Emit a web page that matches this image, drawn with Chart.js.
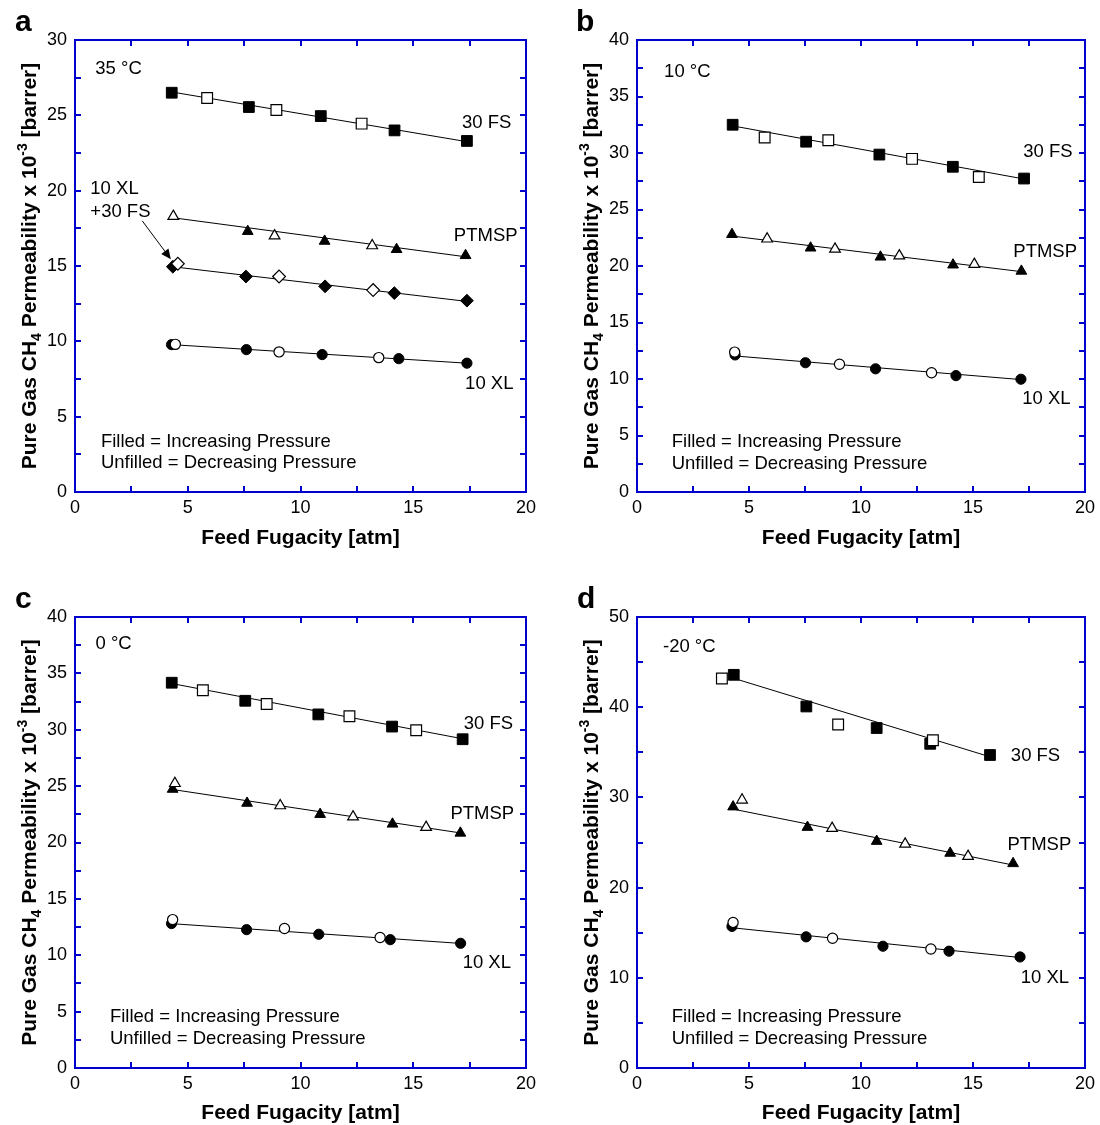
<!DOCTYPE html>
<html><head><meta charset="utf-8">
<script src="https://cdn.jsdelivr.net/npm/chart.js@4.4.1/dist/chart.umd.min.js"></script>
<style>
html,body{margin:0;padding:0;background:#fff;}
#wrap{position:relative;width:1100px;height:1125px;background:#fff;}
canvas{position:absolute;}
</style></head><body><div id="wrap">
<canvas id="pa" width="550" height="560" style="left:0;top:0"></canvas>
<canvas id="pb" width="550" height="560" style="left:550px;top:0"></canvas>
<canvas id="pc" width="550" height="565" style="left:0;top:560px"></canvas>
<canvas id="pd" width="550" height="565" style="left:550px;top:560px"></canvas>
</div>
<script>
// ---- DATA: [feed fugacity (atm), permeability x 1e-3 (barrer)] ----
// Panel a (35 °C)
const a_fs_inc = [[4.29,26.5],[7.71,25.55],[10.9,24.95],[14.17,24.0],[17.38,23.3]];
const a_fs_dec = [[5.86,26.15],[8.93,25.35],[12.71,24.45]];
const a_fs_fit = [[4.29,26.55],[17.38,23.25]];
const a_pt_inc = [[7.66,17.3],[11.07,16.65],[14.26,16.1],[17.32,15.7]];
const a_pt_dec = [[4.36,18.3],[8.85,17.0],[13.18,16.35]];
const a_pt_fit = [[4.36,18.2],[17.38,15.6]];
const a_mx_inc = [[4.34,14.95],[7.58,14.3],[11.09,13.65],[14.16,13.2],[17.38,12.7]];
const a_mx_dec = [[4.56,15.15],[9.05,14.3],[13.22,13.4]];
const a_mx_fit = [[4.34,14.95],[17.38,12.65]];
const a_xl_inc = [[4.28,9.78],[7.6,9.45],[10.96,9.12],[14.36,8.85],[17.38,8.55]];
const a_xl_dec = [[4.45,9.8],[9.05,9.3],[13.47,8.92]];
const a_xl_fit = [[4.3,9.78],[17.38,8.55]];
// Panel b (10 °C)
const b_fs_inc = [[4.27,32.5],[7.55,31.0],[10.82,29.86],[14.1,28.78],[17.28,27.74]];
const b_fs_dec = [[5.7,31.37],[8.54,31.12],[12.28,29.48],[15.26,27.87]];
const b_fs_fit = [[4.27,32.4],[17.28,27.7]];
const b_pt_inc = [[4.24,22.8],[7.75,21.6],[10.87,20.8],[14.11,20.1],[17.16,19.55]];
const b_pt_dec = [[5.81,22.4],[8.84,21.5],[11.71,20.9],[15.06,20.15]];
const b_pt_fit = [[4.24,22.65],[17.16,19.5]];
const b_xl_inc = [[4.38,12.13],[7.52,11.44],[10.65,10.9],[14.24,10.3],[17.14,9.98]];
const b_xl_dec = [[4.36,12.38],[9.04,11.31],[13.15,10.55]];
const b_xl_fit = [[4.3,12.05],[17.14,9.95]];
// Panel c (0 °C)
const c_fs_inc = [[4.29,34.17],[7.55,32.57],[10.79,31.36],[14.06,30.28],[17.19,29.16]];
const c_fs_dec = [[5.67,33.5],[8.5,32.29],[12.17,31.2],[15.13,29.96]];
const c_fs_fit = [[4.29,34.1],[17.19,29.2]];
const c_pt_inc = [[4.33,24.73],[7.63,23.49],[10.87,22.5],[14.08,21.64],[17.09,20.84]];
const c_pt_dec = [[4.43,25.24],[9.1,23.27],[12.33,22.28],[15.57,21.35]];
const c_pt_fit = [[4.33,24.7],[17.09,20.85]];
const c_xl_inc = [[4.28,12.81],[7.61,12.27],[10.81,11.86],[13.98,11.38],[17.1,11.06]];
const c_xl_dec = [[4.33,13.16],[9.29,12.37],[13.53,11.57]];
const c_xl_fit = [[4.3,12.8],[17.1,11.05]];
// Panel d (-20 °C)
const d_fs_inc = [[4.32,43.59],[7.56,40.08],[10.7,37.69],[13.09,35.94],[15.76,34.7]];
const d_fs_dec = [[3.79,43.19],[8.98,38.09],[13.21,36.33]];
const d_fs_fit = [[4.32,43.2],[15.76,34.5]];
const d_pt_inc = [[4.29,28.96],[7.61,26.69],[10.7,25.14],[13.98,23.82],[16.79,22.67]];
const d_pt_dec = [[4.69,29.72],[8.71,26.57],[11.97,24.82],[14.78,23.47]];
const d_pt_fit = [[4.29,28.7],[16.79,22.5]];
const d_xl_inc = [[4.24,15.7],[7.55,14.54],[10.98,13.5],[13.93,12.95],[17.1,12.31]];
const d_xl_dec = [[4.29,16.14],[8.73,14.38],[13.12,13.19]];
const d_xl_fit = [[4.24,15.55],[17.1,12.25]];

// axis tick definitions
const xTickStep = 2.5, xLabelStep = 5, xMax = 20;
const yMaxes = {a:30, b:40, c:40, d:50};
const yTickSteps = {a:2.5, b:2.5, c:2.5, d:5};
const yLabelSteps = {a:5, b:5, c:5, d:10};

// text labels
const xTitle = 'Feed Fugacity [atm]';
const noteFilled = 'Filled = Increasing Pressure';
const noteUnfilled = 'Unfilled = Decreasing Pressure';

// ---- rendering ----
const FONT = '"Liberation Sans", Arial, Helvetica, sans-serif';
const BLUE = '#0000CC';
Chart.defaults.font.family = FONT;

function pts(arr){ return arr.map(p => ({x:p[0], y:p[1]})); }
function series(inc, dec, fit, style, r){
  const out = [];
  if (fit) out.push({data: pts(fit), showLine:true, pointRadius:0, borderColor:'#000', borderWidth:1, order:2});
  if (inc) out.push({data: pts(inc), showLine:false, pointStyle:style, pointRadius:r, pointBackgroundColor:'#000', pointBorderColor:'#000', pointBorderWidth:1, backgroundColor:'#000', borderColor:'#000', order:1});
  if (dec) out.push({data: pts(dec), showLine:false, pointStyle:style, pointRadius:r, pointBackgroundColor:'#fff', pointBorderColor:'#000', pointBorderWidth:1.2, backgroundColor:'#fff', borderColor:'#000', order:0});
  return out;
}

function decoPlugin(p){
  return {
    id: 'deco_' + p.letter,
    afterDraw(chart){
      const ctx = chart.ctx, ca = chart.chartArea, xs = chart.scales.x, ys = chart.scales.y;
      ctx.save();
      // ticks (inward, all four sides)
      ctx.strokeStyle = BLUE; ctx.lineWidth = 2;
      ctx.beginPath();
      xs.ticks.forEach(t => {
        const px = Math.round(xs.getPixelForValue(t.value));
        ctx.moveTo(px, ca.bottom); ctx.lineTo(px, ca.bottom - 6);
        ctx.moveTo(px, ca.top); ctx.lineTo(px, ca.top + 6);
      });
      ys.ticks.forEach(t => {
        const py = Math.round(ys.getPixelForValue(t.value));
        ctx.moveTo(ca.left, py); ctx.lineTo(ca.left + 6, py);
        ctx.moveTo(ca.right, py); ctx.lineTo(ca.right - 6, py);
      });
      ctx.stroke();
      ctx.strokeRect(ca.left, ca.top, ca.right - ca.left, ca.bottom - ca.top);

      // annotations
      ctx.fillStyle = '#000';
      ctx.font = '18.5px ' + FONT;
      ctx.textAlign = 'left'; ctx.textBaseline = 'middle';
      p.notes.forEach(n => {
        ctx.fillText(n[0], xs.getPixelForValue(n[1]), ys.getPixelForValue(n[2]));
      });

      // arrow
      if (p.arrow){
        const x0 = xs.getPixelForValue(p.arrow[0]), y0 = ys.getPixelForValue(p.arrow[1]);
        const x1 = xs.getPixelForValue(p.arrow[2]), y1 = ys.getPixelForValue(p.arrow[3]);
        const ang = Math.atan2(y1 - y0, x1 - x0);
        ctx.strokeStyle = '#000'; ctx.lineWidth = 1;
        ctx.beginPath(); ctx.moveTo(x0, y0); ctx.lineTo(x1 - 6*Math.cos(ang), y1 - 6*Math.sin(ang)); ctx.stroke();
        ctx.beginPath();
        ctx.moveTo(x1, y1);
        ctx.lineTo(x1 - 10*Math.cos(ang) + 4.5*Math.sin(ang), y1 - 10*Math.sin(ang) - 4.5*Math.cos(ang));
        ctx.lineTo(x1 - 10*Math.cos(ang) - 4.5*Math.sin(ang), y1 - 10*Math.sin(ang) + 4.5*Math.cos(ang));
        ctx.closePath(); ctx.fill();
      }

      // x title
      ctx.font = 'bold 21px ' + FONT;
      ctx.textAlign = 'center'; ctx.textBaseline = 'alphabetic';
      ctx.fillText(xTitle, (ca.left + ca.right)/2, ca.bottom + p.xTitleOff);

      // y title with subscript / superscript
      ctx.save();
      ctx.translate(ca.left - 39, (ca.top + ca.bottom)/2);
      ctx.rotate(-Math.PI/2);
      const big = 'bold 21px ' + FONT, small = 'bold 14px ' + FONT;
      const parts = [
        ['Pure Gas CH', big, 0],
        ['4', small, 5],
        [' Permeability x 10', big, 0],
        ['-3', small, -9],
        [' [barrer]', big, 0]
      ];
      let total = 0;
      parts.forEach(pt => { ctx.font = pt[1]; total += ctx.measureText(pt[0]).width; });
      let cx = -total/2;
      ctx.textAlign = 'left';
      parts.forEach(pt => { ctx.font = pt[1]; ctx.fillText(pt[0], cx, pt[2]); cx += ctx.measureText(pt[0]).width; });
      ctx.restore();

      // panel letter
      ctx.font = 'bold 30px ' + FONT;
      ctx.textAlign = 'left'; ctx.textBaseline = 'alphabetic';
      ctx.fillText(p.letter, p.letterPos[0], p.letterPos[1]);
      ctx.restore();
    }
  };
}

function makePanel(id, key, datasets, layout, deco){
  const yMax = yMaxes[key], yStep = yTickSteps[key], yLab = yLabelSteps[key];
  new Chart(document.getElementById(id), {
    type: 'scatter',
    data: { datasets },
    options: {
      responsive: false, animation: false, devicePixelRatio: 1,
      layout: { padding: { left: 0, top: layout.top, right: layout.right, bottom: 0 } },
      plugins: { legend: {display:false}, tooltip: {enabled:false} },
      scales: {
        x: {
          type:'linear', min:0, max:xMax,
          grid:{display:false, drawTicks:false}, border:{display:false},
          ticks:{stepSize:xTickStep, autoSkip:false, maxRotation:0, padding:5, color:'#000', font:{size:18},
                 callback: v => (Math.abs(v % xLabelStep) < 1e-9 ? String(v) : '')},
          afterFit: s => { s.height = layout.xh; }
        },
        y: {
          type:'linear', min:0, max:yMax,
          grid:{display:false, drawTicks:false}, border:{display:false},
          ticks:{stepSize:yStep, autoSkip:false, padding:8, color:'#000', font:{size:18},
                 callback: v => (Math.abs(v % yLab) < 1e-9 ? String(v) : '')},
          afterFit: s => { s.width = layout.yw; }
        }
      }
    },
    plugins: [decoPlugin(deco)]
  });
}

makePanel('pa', 'a', [
  ...series(a_fs_inc, a_fs_dec, a_fs_fit, 'rect', 7.6),
  ...series(a_pt_inc, a_pt_dec, a_pt_fit, 'triangle', 6.2),
  ...series(a_mx_inc, a_mx_dec, a_mx_fit, 'rectRot', 6.4),
  ...series(a_xl_inc, a_xl_dec, a_xl_fit, 'circle', 5.1)
], {top:40, right:24, xh:68, yw:75}, {
  letter:'a', letterPos:[15,31], xTitleOff:52,
  notes:[['35 °C',0.9,28.1],['30 FS',17.16,24.5],['10 XL',0.68,20.1],['+30 FS',0.68,18.6],['PTMSP',16.8,17.0],['10 XL',17.3,7.15],
         [noteFilled,1.15,3.3],[noteUnfilled,1.15,1.9]],
  arrow:[2.98,18.0,4.25,15.45]
});

makePanel('pb', 'b', [
  ...series(b_fs_inc, b_fs_dec, b_fs_fit, 'rect', 7.6),
  ...series(b_pt_inc, b_pt_dec, b_pt_fit, 'triangle', 6.2),
  ...series(b_xl_inc, b_xl_dec, b_xl_fit, 'circle', 5.1)
], {top:40, right:11, xh:68, yw:87}, {
  letter:'b', letterPos:[26,31], xTitleOff:52,
  notes:[['10 °C',1.21,37.2],['30 FS',17.24,30.1],['PTMSP',16.8,21.25],['10 XL',17.2,8.2],
         [noteFilled,1.55,4.4],[noteUnfilled,1.55,2.5]]
});

makePanel('pc', 'c', [
  ...series(c_fs_inc, c_fs_dec, c_fs_fit, 'rect', 7.6),
  ...series(c_pt_inc, c_pt_dec, c_pt_fit, 'triangle', 6.2),
  ...series(c_xl_inc, c_xl_dec, c_xl_fit, 'circle', 5.1)
], {top:57, right:24, xh:57, yw:75}, {
  letter:'c', letterPos:[15,48], xTitleOff:51,
  notes:[['0 °C',0.91,37.6],['30 FS',17.24,30.5],['PTMSP',16.65,22.5],['10 XL',17.19,9.3],
         [noteFilled,1.55,4.55],[noteUnfilled,1.55,2.55]]
});

makePanel('pd', 'd', [
  ...series(d_fs_inc, d_fs_dec, d_fs_fit, 'rect', 7.6),
  ...series(d_pt_inc, d_pt_dec, d_pt_fit, 'triangle', 6.2),
  ...series(d_xl_inc, d_xl_dec, d_xl_fit, 'circle', 5.1)
], {top:57, right:11, xh:57, yw:87}, {
  letter:'d', letterPos:[27,48], xTitleOff:51,
  notes:[['-20 °C',1.16,46.7],['30 FS',16.69,34.55],['PTMSP',16.54,24.7],['10 XL',17.13,9.96],
         [noteFilled,1.55,5.7],[noteUnfilled,1.55,3.2]]
});
</script>
</body></html>
